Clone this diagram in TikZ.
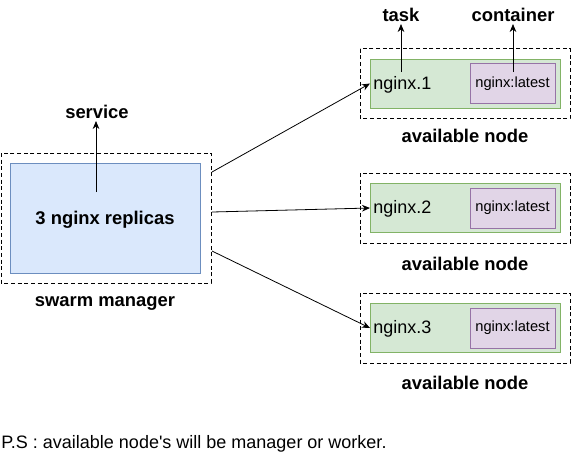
\documentclass[tikz,border=0pt]{standalone}
\usepackage{fontspec}
\setmainfont{Liberation Sans}[Ligatures=TeXOff]
\usetikzlibrary{arrows.meta,calc}
\definecolor{bluefill}{HTML}{DAE8FC}
\definecolor{bluedraw}{HTML}{6C8EBF}
\definecolor{greenfill}{HTML}{D5E8D4}
\definecolor{greendraw}{HTML}{82B366}
\definecolor{purplefill}{HTML}{E1D5E7}
\definecolor{purpledraw}{HTML}{9673A6}
\tikzset{
  dashbox/.style={draw=black, dashed, dash pattern=on 3pt off 2pt, line width=0.6pt, fill=white},
  boxblue/.style={draw=bluedraw, fill=bluefill, line width=0.75pt},
  boxgreen/.style={draw=greendraw, fill=greenfill, line width=0.75pt},
  boxpurple/.style={draw=purpledraw, fill=purplefill, line width=0.75pt},
  lbl/.style={font=\fontsize{13.8pt}{16pt}\selectfont\bfseries, inner sep=1.5pt},
  plain/.style={font=\fontsize{13.5pt}{16pt}\selectfont, inner sep=0pt},
  small/.style={font=\fontsize{11pt}{13pt}\selectfont, inner sep=0pt},
  conn/.style={draw=black, line width=0.6pt, -{Stealth[length=6pt,width=5pt]}},
}
\begin{document}
\begin{tikzpicture}[x=0.75pt,y=-0.75pt]
\useasboundingbox (0,0) rectangle (578,455);
% swarm manager
\path[dashbox] (1,153) rectangle (211,283);
\node[boxblue, minimum width=190*0.75pt, minimum height=110*0.75pt, inner sep=0pt] (mgr) at (105,218) {};
\node[lbl] (mgrtext) at (105,220) {3 nginx replicas};
\node[lbl] (service) at (97,112) {service};
\node[lbl] (swarmlbl) at (105,303) {swarm manager};
\coordinate (svcfoot) at (96,192);
\draw[conn] (svcfoot) -- (service.south -| svcfoot);

% available nodes
\foreach \i/\cy/\ly in {1/83.5/136, 2/208/264, 3/328/383}{
  \path[dashbox] (360,\cy-35) rectangle (570,\cy+35);
  \node[boxgreen, minimum width=190*0.75pt, minimum height=49*0.75pt, inner sep=0pt] (g\i) at (465.5,\cy) {};
  \node[boxpurple, minimum width=85*0.75pt, minimum height=40*0.75pt, inner sep=0pt] (p\i) at (512.5,\cy) {};
  \node[small] (img\i) at (p\i.center) {nginx:latest};
  \node[plain, anchor=west] (t\i) at (373,\cy+1) {nginx.\i};
  \node[lbl] (avail\i) at (465,\ly) {available node};
}
\node[lbl] (task) at (401,15) {task};
\node[lbl] (container) at (513,15) {container};
\coordinate (taskfoot) at (401,72);
\coordinate (contfoot) at (513,72);
\draw[conn] (taskfoot) -- (task.south -| taskfoot);
\draw[conn] (contfoot) -- (container.south -| contfoot);

% connectors
\coordinate (s1) at (212,172);
\coordinate (s2) at (212,212);
\coordinate (s3) at (212,251);
\draw[conn] (s1) -- (g1.west);
\draw[conn] (s2) -- (g2.west);
\draw[conn] (s3) -- (g3.west);

\node[plain, anchor=west] (ps) at (1,444) {P.S : available node's will be manager or worker.};
\end{tikzpicture}
\end{document}
